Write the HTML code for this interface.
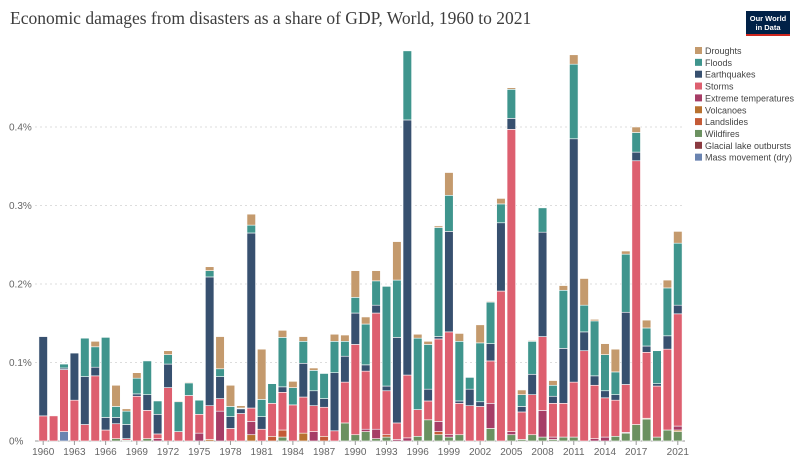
<!DOCTYPE html>
<html><head><meta charset="utf-8"><style>
body{margin:0;background:#fff;width:800px;height:466px;overflow:hidden;font-family:"Liberation Sans",sans-serif}
</style></head><body>
<svg id="chart" width="800" height="466" xmlns="http://www.w3.org/2000/svg">
<text x="10" y="24" font-family="Liberation Serif, serif" font-size="17.5" fill="#3d3d3d">Economic damages from disasters as a share of GDP, World, 1960 to 2021</text>
<g><rect x="746" y="11" width="44" height="25" fill="#002147"/><rect x="746" y="34" width="44" height="2" fill="#ce261e"/>
<text x="768" y="21" font-size="7.5" fill="#fff" text-anchor="middle" font-weight="bold">Our World</text><text x="768" y="30" font-size="7.5" fill="#fff" text-anchor="middle" font-weight="bold">in Data</text></g>
<g id="grid"></g><g id="bars"></g><g id="axes"></g><g id="legend"></g>
</svg>
<script>
const years=[];for(let y=1960;y<=2021;y++)years.push(y);
const mass=[0,0,.012,0,0,0,0,0,0,0,0,0,0,0,0,0,0,0,0,0, 0,0,0,0,0,0,0,0,0,0,0,0,0,0,0,0,0,0,0,0, 0,0,0,0,0,0,0,0,0,0,0,0,0,0,0,0,0,0,0,0,0,0];
const glacial=new Array(62).fill(0);
const wildfires=[0,0,0,0,0,0,0,.003,.001,0,.003,0,0,0,0,0,0,0,0,0, 0,0,0,.005,0,0,0,0,0,.023,.008,.012,.003,.005,0,0,.006,.027,.008,.005, .008,0,0,.016,0,.008,.002,.008,.005,.002,.005,.005,0,0,0,.006,.010,.021,.028,.005,.014,.012];
const landslides=[0,0,0,0,0,0,0,0,0,0,0,0,0,0,0,0,0,0,0,0, 0,0,.006,.009,0,0,0,.006,0,0,0,0,0,.003,0,0,0,0,.004,0, 0,0,0,0,0,0,0,0,0,0,0,0,0,0,0,0,0,0,.001,0,0,0];
const volcanoes=[0,0,0,0,0,0,0,0,0,0,0,0,0,0,0,0,.002,0,0,0, .008,0,0,0,0,.010,0,0,0,0,0,0,0,0,0,0,0,0,0,0, 0,0,0,0,0,0,0,0,0,0,0,0,0,0,0,0,0,0,0,0,0,.002];
const extremeTemp=[0,0,0,0,0,0,0,0,0,0,0,.003,0,0,0,.010,0,.038,0,0, .017,0,0,0,0,0,.012,0,0,0,0,.003,.012,0,.002,.004,0,0,.013,.003, 0,0,0,.032,0,.004,0,0,.034,.003,0,0,0,.003,.005,0,.001,0,0,0,0,.005];
const storms=[.032,.032,.079,.052,.021,.083,.014,.019,.002,.057,.036,.006,.068,.012,.058,.024,.043,.016,.016,.035, .017,.015,.042,.048,.046,.046,.033,.037,.013,.052,.115,.074,.148,.056,.021,.080,.034,.024,.105,.131, .040,.045,.044,.054,.191,.385,.035,.051,.094,.043,.043,.070,.115,.068,.050,.046,.061,.336,.084,.065,.103,.143];
const earthquakes=[.101,0,.002,.060,.061,.011,.016,.008,.018,.003,.020,.025,.030,0,0,0,.164,.028,.015,.006, .223,.016,0,.007,0,.043,.019,.011,.074,.033,.040,.008,.010,.006,.109,.325,0,.015,.003,.128, .003,.021,.006,.022,.087,.014,.007,.026,.133,.009,.070,.310,.024,.012,.009,.007,.092,.011,.008,.003,.017,.011];
const floods=[0,0,.005,0,.049,.026,.102,.014,.017,.020,.043,.017,.012,.038,.016,.018,.008,.010,.013,.001, .010,.022,.025,.063,.022,.028,.026,.032,.040,.019,.020,.052,.031,.127,.073,.088,.091,.057,.139,.046, .076,.015,.075,.053,.024,.037,.015,.042,.031,.014,.074,.095,.034,.070,.046,.029,.074,.025,.023,.042,.061,.079];
const droughts=[0,0,0,0,0,.007,0,.027,.003,.007,0,0,.005,.001,.001,0,.005,.041,.027,.003, .014,.064,0,.009,.008,.006,.003,0,.009,.008,.034,.009,.013,0,.049,0,.005,.004,.002,.029, .010,0,.023,.001,.007,.002,.006,.001,0,.006,.006,.012,.034,.002,.014,.029,.004,.007,.010,0,.010,.015];
const yTicks=[0,0.1,0.2,0.3,0.4];
const yTickLabels=["0%","0.1%","0.2%","0.3%","0.4%"];
const series=[
 {name:"Mass movement (dry)",key:"mass",vals:mass,color:"#6a83b0"},
 {name:"Glacial lake outbursts",key:"glacial",vals:glacial,color:"#8a3a40"},
 {name:"Wildfires",key:"wildfires",vals:wildfires,color:"#6b9160"},
 {name:"Landslides",key:"landslides",vals:landslides,color:"#c45a36"},
 {name:"Volcanoes",key:"volcanoes",vals:volcanoes,color:"#b8712f"},
 {name:"Extreme temperatures",key:"extreme-temperatures",vals:extremeTemp,color:"#a63d66"},
 {name:"Storms",key:"storms",vals:storms,color:"#dd5f6f"},
 {name:"Earthquakes",key:"earthquakes",vals:earthquakes,color:"#37506f"},
 {name:"Floods",key:"floods",vals:floods,color:"#3f958d"},
 {name:"Droughts",key:"droughts",vals:droughts,color:"#c49a6d"}];
const NS="http://www.w3.org/2000/svg";
const X0=38,X1=683,Y0=441,PER=785;
const band=(X1-X0)/years.length;
const xc=i=>X0+band*(i+0.5);
const yv=v=>Y0-v*PER;
function mk(t,a,p){const e=document.createElementNS(NS,t);for(const k in a)e.setAttribute(k,a[k]);p.appendChild(e);return e;}
const grid=document.getElementById('grid');
yTicks.forEach((t,i)=>{
 const l=mk('line',{x1:35,x2:685,y1:yv(t),y2:yv(t),stroke:i?"#ddd":"#999","stroke-dasharray":i?"2,3":"none"},grid);
 
 
 const tx=mk('text',{x:9,y:yv(t)+3.5,"font-size":10,fill:"#666"},grid);tx.textContent=yTickLabels[i];
 
 
});
const bars=document.getElementById('bars');
years.forEach((yr,i)=>{
 let acc=0;
 series.forEach(s=>{
  const v=s.vals[i];if(!v)return;
  const r=mk('rect',{x:xc(i)-4.3,y:yv(acc+v),width:8.6,height:v*PER,fill:s.color,stroke:"#fff","stroke-width":0.6},bars);
  
  
  acc+=v;
 });
});
const axes=document.getElementById('axes');
years.forEach((yr,i)=>{
 if((yr-1960)%3!==0&&yr!==2021)return;
 if(yr===2020)return;
 mk('line',{x1:xc(i),x2:xc(i),y1:Y0,y2:Y0+4,stroke:"#999"},axes);
 const t=mk('text',{x:xc(i),y:Y0+14,"font-size":10,fill:"#666","text-anchor":"middle"},axes);t.textContent=yr;
 
 
});
const leg=document.getElementById('legend');
series.slice().reverse().forEach((s,i)=>{
 const g=mk('g',{},leg);
 
 
 const y=47+i*11.85;
 mk('rect',{x:695,y:y,width:7,height:7,fill:s.color},g);
 const t=mk('text',{x:705,y:y+7,"font-size":9,fill:"#444"},g);t.textContent=s.name;
});
</script>
</body></html>
